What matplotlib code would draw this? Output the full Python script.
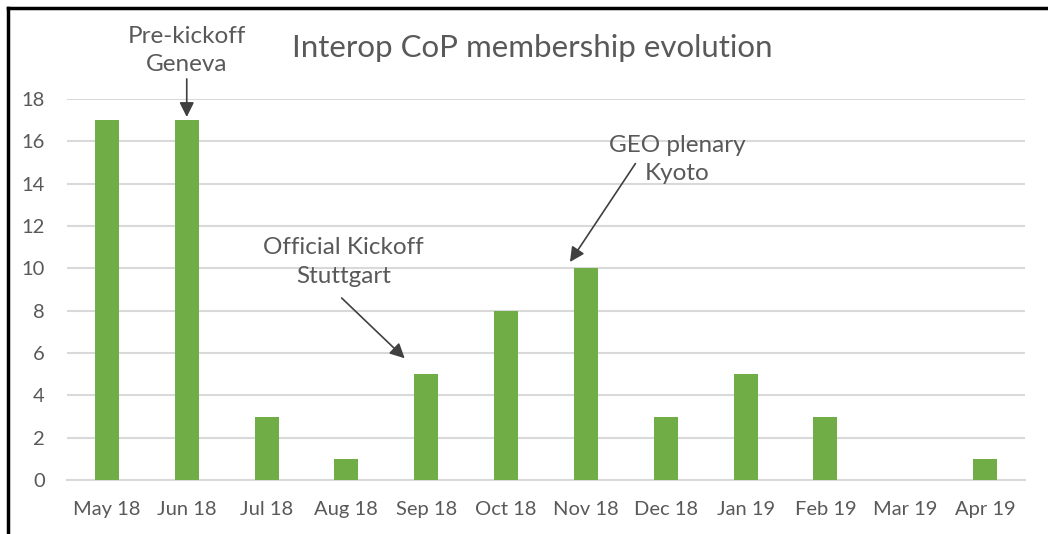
import matplotlib.pyplot as plt
from matplotlib.lines import Line2D

# Data
months = ["May 18", "Jun 18", "Jul 18", "Aug 18", "Sep 18", "Oct 18",
          "Nov 18", "Dec 18", "Jan 19", "Feb 19", "Mar 19", "Apr 19"]
members = [17, 17, 3, 1, 5, 8, 10, 3, 5, 3, 0, 1]
yticks = [0, 2, 4, 6, 8, 10, 12, 14, 16, 18]

# Annotations: label, text position, arrow start, arrow tip
notes = [
    ("Pre-kickoff\nGeneva", (1.0, 20.3), (1.0, 18.95), (1.0, 17.15)),
    ("Official Kickoff\nStuttgart", (2.96, 10.3), (2.94, 8.6), (3.73, 5.75)),
    ("GEO plenary\nKyoto", (7.14, 15.15), (6.62, 14.95), (5.80, 10.3)),
]

plt.rcParams['font.family'] = ['Lato', 'DejaVu Sans']
grey = "#595959"

fig = plt.figure(figsize=(10.48, 5.34), dpi=100)
ax = fig.add_axes([67/1048, 1 - 480/534, (1025 - 67)/1048, (480 - 99)/534])

x = list(range(len(months)))
ax.bar(x, members, width=0.3, color="#70AD47", zorder=3)

ax.set_xlim(-0.5, len(months) - 0.5)
ax.set_ylim(0, 18)
ax.set_yticks(yticks)
ax.set_xticks(x)
ax.set_xticklabels(months)
ax.tick_params(axis="both", length=0, labelsize=14.5, colors=grey)
ax.tick_params(axis="y", pad=16)
ax.tick_params(axis="x", pad=15)
ax.grid(axis="y", color="#D9D9D9", linewidth=1.5, zorder=0)
ax.set_axisbelow(True)
for s in ["top", "right", "left"]:
    ax.spines[s].set_visible(False)
ax.spines["bottom"].set_color("#D9D9D9")
ax.spines["bottom"].set_linewidth(1.5)

fig.text(532/1048, 1 - 48/534, "Interop CoP membership evolution",
         ha="center", va="center", fontsize=22.5, color=grey)

for label, pos, start, tip in notes:
    ax.text(pos[0], pos[1], label, ha="center", va="center", fontsize=17.5,
            color=grey, linespacing=1.42)
    ax.annotate("", xy=tip, xytext=start, annotation_clip=False,
                arrowprops=dict(arrowstyle="-|>", color="#404040", lw=1.2,
                                mutation_scale=22, shrinkA=0, shrinkB=0))

# Frame around the picture
fig.add_artist(Line2D([8/1048, 8/1048], [0, 1 - 7.5/534], color="black",
                      lw=2.5, transform=fig.transFigure))
fig.add_artist(Line2D([8/1048, 1], [1 - 7.5/534, 1 - 7.5/534], color="black",
                      lw=2.5, transform=fig.transFigure))

fig.savefig("out.png", dpi=100)
